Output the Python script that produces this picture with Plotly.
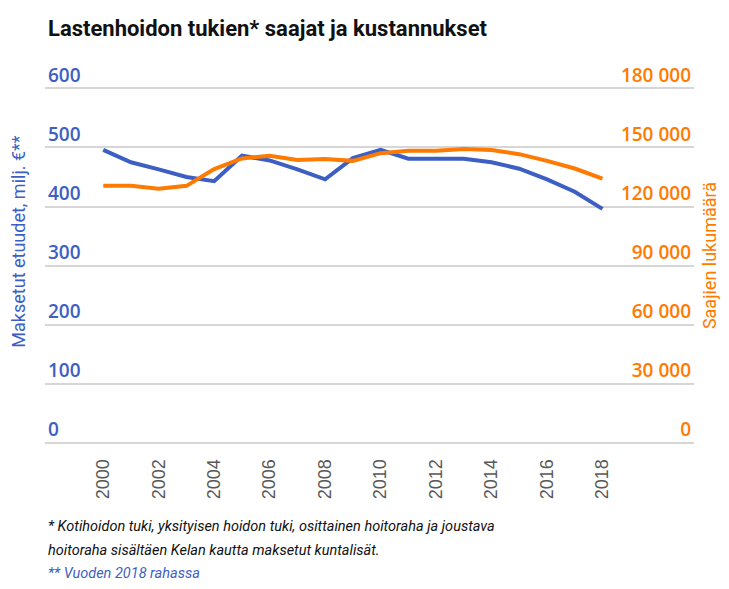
import plotly.graph_objects as go

years = list(range(2000, 2019))
benefits_meur = [496, 475, 463, 450, 443, 486, 478, 463, 446, 482, 496, 481, 481, 481, 475, 464, 446, 425, 396]
recipients = [130500, 130500, 129000, 130500, 139000, 144400, 145800, 143600, 144100, 143200,
              147100, 148300, 148300, 149200, 148700, 146600, 143200, 139300, 134200]

x_ticks = list(range(2000, 2019, 2))
left_ticks = [0, 100, 200, 300, 400, 500, 600]
right_ticks = [0, 30000, 60000, 90000, 120000, 150000, 180000]
right_tick_text = ["0", "30 000", "60 000", "90 000", "120 000", "150 000", "180 000"]

BLUE = "#3D5FC4"
ORANGE = "#FF7A00"
GRID = "#D6D6D6"
TXTF = "Roboto, Liberation Sans, sans-serif"
TICKF = "Open Sans, DejaVu Sans, sans-serif"

# page offset: the browser body has an 8 px margin on every side
OFF = 8
W, HGT = 729 - 2 * OFF, 589 - 2 * OFF

# pixel geometry in page coordinates
PX_PER_UNIT = 355.0 / 600.0
Y0_PX = 443.0
YMIN, YMAX = -2, 665
TOP = Y0_PX - YMAX * PX_PER_UNIT
BOTTOM = Y0_PX - YMIN * PX_PER_UNIT
L, R = 45, 694
H = BOTTOM - TOP

fig = go.Figure()
fig.add_trace(go.Scatter(x=years, y=benefits_meur, mode="lines",
                         line=dict(color=BLUE, width=4), yaxis="y", hoverinfo="skip"))
fig.add_trace(go.Scatter(x=years, y=recipients, mode="lines",
                         line=dict(color=ORANGE, width=4), yaxis="y2", hoverinfo="skip"))

fig.update_layout(
    width=W, height=HGT,
    margin=dict(l=L - OFF, r=W - (R - OFF), t=TOP - OFF, b=HGT - (BOTTOM - OFF), autoexpand=False),
    plot_bgcolor="white", paper_bgcolor="white",
    showlegend=False,
    xaxis=dict(range=[1997.9, 2021.3], tickvals=x_ticks, tickangle=-90, automargin=False,
               showgrid=False, zeroline=False, showline=False,
               ticks="outside", ticklen=7, tickcolor="rgba(0,0,0,0)",
               tickfont=dict(family="Liberation Sans, Arial, sans-serif", size=18, color="#595959")),
    yaxis=dict(range=[YMIN, YMAX], tickvals=left_ticks, ticklabelposition="inside top", automargin=False,
               showgrid=True, gridcolor=GRID, gridwidth=1.5, zeroline=False, showline=False,
               tickfont=dict(family=TICKF, size=19, color=BLUE, weight=600)),
    yaxis2=dict(range=[YMIN * 300, YMAX * 300], tickvals=right_ticks, ticktext=right_tick_text,
                overlaying="y", side="right", ticklabelposition="inside top", automargin=False,
                showgrid=False, zeroline=False, showline=False,
                tickfont=dict(family=TICKF, size=19, color=ORANGE, weight=600)),
)

def px_x(px):
    return (px - L) / float(R - L)

def px_y(py):
    return (BOTTOM - py) / H

ann = [
    dict(text="<b>Lastenhoidon tukien* saajat ja kustannukset</b>", x=px_x(46), y=px_y(28),
         xanchor="left", yanchor="middle", font=dict(family=TXTF, size=22, color="#111111")),
    dict(text="Maksetut etuudet, milj. €**", x=px_x(18.5), y=px_y(242), textangle=-90,
         xanchor="center", yanchor="middle", font=dict(family=TXTF, size=18, color=BLUE)),
    dict(text="Saajien lukumäärä", x=px_x(709), y=px_y(256), textangle=-90,
         xanchor="center", yanchor="middle", font=dict(family=TXTF, size=18, color=ORANGE)),
    dict(text="<i>* Kotihoidon tuki, yksityisen hoidon tuki, osittainen hoitoraha ja joustava</i>",
         x=px_x(46), y=px_y(527), xanchor="left", yanchor="middle",
         font=dict(family=TXTF, size=14.5, color="#111111")),
    dict(text="<i>hoitoraha sisältäen Kelan kautta maksetut kuntalisät.</i>",
         x=px_x(46), y=px_y(551), xanchor="left", yanchor="middle",
         font=dict(family=TXTF, size=14.5, color="#111111")),
    dict(text="<i>** Vuoden 2018 rahassa</i>",
         x=px_x(46), y=px_y(574), xanchor="left", yanchor="middle",
         font=dict(family=TXTF, size=14.5, color=BLUE)),
]
for a in ann:
    a.update(xref="paper", yref="paper", showarrow=False)
fig.update_layout(annotations=ann)

fig.write_html("out.html")
